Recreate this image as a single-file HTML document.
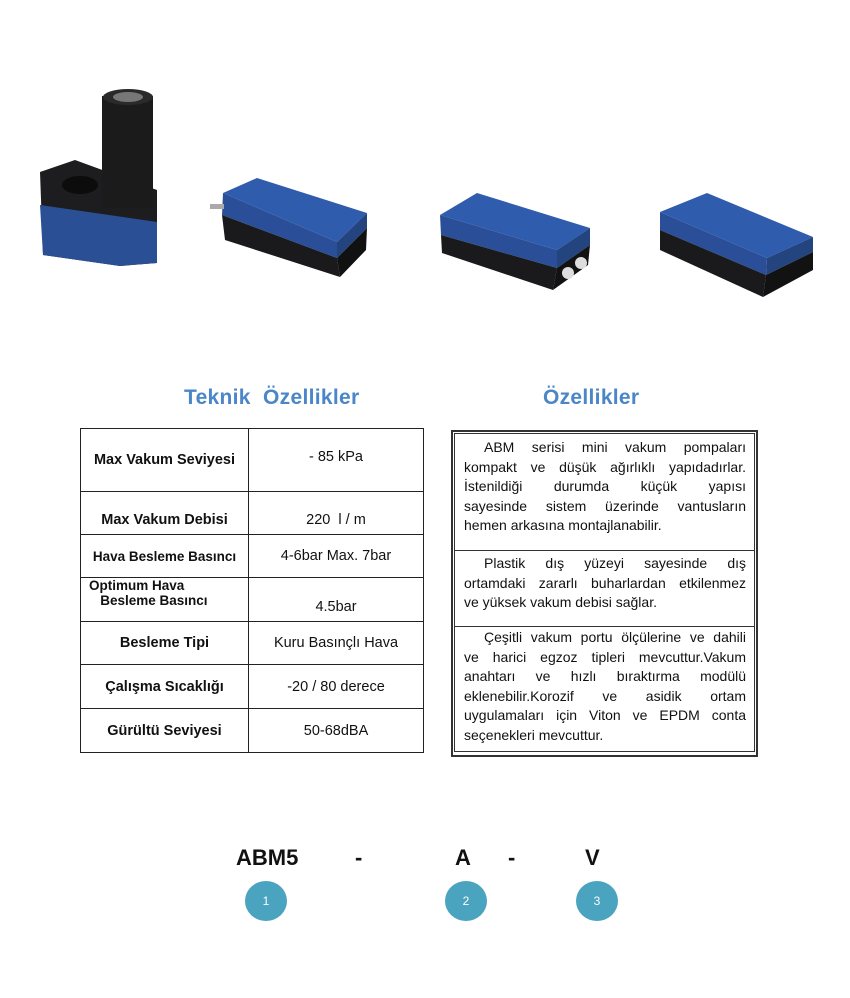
<!DOCTYPE html>
<html><head><meta charset="utf-8"><style>
body{margin:0;background:#fff;width:850px;height:998px;position:relative;font-family:"Liberation Sans",Arial,sans-serif;overflow:hidden}
.a{position:absolute}
h2{position:absolute;margin:0;color:#4a86c8;font-size:21px;font-weight:bold;top:386px;letter-spacing:0.3px}
table{position:absolute;left:80px;top:428px;border-collapse:collapse;width:343px;table-layout:fixed}
td{border:1.5px solid #222;font-size:14.5px;text-align:center;padding:0;color:#111}
td.k{font-weight:bold;font-size:14.5px}
.box{position:absolute;left:451px;top:430px;width:301px;height:321px;border:2px solid #333;padding:1px}
.sec{border:1px solid #333;font-size:14px;line-height:19.6px;box-sizing:border-box;color:#111;padding:0 8px 0 9px}
.sec div{text-align:justify;text-align-last:justify;white-space:nowrap;word-spacing:0}
.sec div.l{text-align-last:left}
.code{position:absolute;top:845px;font-size:22px;font-weight:bold;color:#111}
.c{position:absolute;width:42px;height:40px;border-radius:50%;background:#4aa3bf;color:#fff;font-size:12px;text-align:center;line-height:40px;top:881px}
</style></head><body>
<svg class="a" style="left:0;top:0" width="850" height="320">
<polygon points="40,172 75,160 157,190 157,263 120,266 43,255" fill="#1d1d1f"/>
<polygon points="40,205 157,222 157,263 120,266 43,255" fill="#2b4f94"/>
<ellipse cx="80" cy="185" rx="18" ry="9" fill="#0c0c0c"/>
<rect x="102" y="96" width="51" height="112" fill="#1b1b1b"/>
<ellipse cx="128" cy="97" rx="25" ry="8" fill="#2a2a2a"/>
<ellipse cx="128" cy="97" rx="15" ry="5" fill="#777"/>
<polygon points="223,193 257,178 367,213 337,242" fill="#2f5cad"/>
<polygon points="223,193 337,242 337,258 222,215" fill="#2a4f98"/>
<polygon points="337,242 367,213 367,228 337,258" fill="#24447f"/>
<polygon points="222,215 337,258 340,277 225,240" fill="#1a1a1c"/>
<polygon points="337,258 367,228 366,250 340,277" fill="#111"/>
<rect x="210" y="204" width="14" height="5" fill="#aaa"/>
<polygon points="440,215 477,193 590,228 557,250" fill="#2f5cad"/>
<polygon points="440,215 557,250 557,268 441,235" fill="#2a4f98"/>
<polygon points="557,250 590,228 590,245 557,268" fill="#24447f"/>
<polygon points="441,235 557,268 553,290 442,253" fill="#1a1a1c"/>
<polygon points="557,268 590,245 588,265 553,290" fill="#121212"/>
<circle cx="568" cy="273" r="6" fill="#ddd"/><circle cx="581" cy="263" r="6" fill="#ddd"/>
<polygon points="660,212 707,193 813,237 767,258" fill="#2f5cad"/>
<polygon points="660,212 767,258 766,275 660,230" fill="#2a4f98"/>
<polygon points="767,258 813,237 813,252 766,275" fill="#24447f"/>
<polygon points="660,230 766,275 763,297 660,250" fill="#1a1a1c"/>
<polygon points="766,275 813,252 813,270 763,297" fill="#121212"/>
</svg>
<h2 style="left:184px">Teknik&nbsp; Özellikler</h2>
<h2 style="left:543px">Özellikler</h2>
<table>
<colgroup><col style="width:168px"><col style="width:175px"></colgroup>
<tr style="height:63px"><td class="k">Max Vakum Seviyesi</td><td style="vertical-align:top;padding-top:20px">- 85 kPa</td></tr>
<tr style="height:43px"><td class="k" style="vertical-align:bottom;padding-bottom:6px">Max Vakum Debisi</td><td style="vertical-align:bottom;padding-bottom:6px">220&nbsp; l / m</td></tr>
<tr style="height:43px"><td class="k" style="font-size:13.5px">Hava Besleme Basıncı</td><td>4-6bar Max. 7bar</td></tr>
<tr style="height:44px"><td class="k" style="font-size:13.5px;text-align:left;padding-left:8px;line-height:15px;vertical-align:top">Optimum Hava<br>&nbsp;&nbsp;&nbsp;Besleme Basıncı</td><td style="vertical-align:bottom;padding-bottom:6px">4.5bar</td></tr>
<tr style="height:43px"><td class="k">Besleme Tipi</td><td>Kuru Basınçlı Hava</td></tr>
<tr style="height:44px"><td class="k">Çalışma Sıcaklığı</td><td>-20 / 80 derece</td></tr>
<tr style="height:44px"><td class="k">Gürültü Seviyesi</td><td>50-68dBA</td></tr>
</table>
<div class="box">
<div class="sec" style="height:118px;padding-top:4px">
<div style="padding-left:20px">ABM serisi mini vakum pompaları</div>
<div>kompakt ve düşük ağırlıklı yapıdadırlar.</div>
<div>İstenildiği durumda küçük yapısı</div>
<div>sayesinde sistem üzerinde vantusların</div>
<div class="l">hemen arkasına montajlanabilir.</div>
</div>
<div class="sec" style="height:76px;padding-top:3px;border-top:none">
<div style="padding-left:20px">Plastik dış yüzeyi sayesinde dış</div>
<div>ortamdaki zararlı buharlardan etkilenmez</div>
<div class="l">ve yüksek vakum debisi sağlar.</div>
</div>
<div class="sec" style="height:125px;padding-top:1px;border-top:none">
<div style="padding-left:20px">Çeşitli vakum portu ölçülerine ve dahili</div>
<div>ve harici egzoz tipleri mevcuttur.Vakum</div>
<div>anahtarı ve hızlı bıraktırma modülü</div>
<div>eklenebilir.Korozif ve asidik ortam</div>
<div>uygulamaları için Viton ve EPDM conta</div>
<div class="l">seçenekleri mevcuttur.</div>
</div>
</div>
<div class="code" style="left:236px">ABM5</div>
<div class="code" style="left:355px">-</div>
<div class="code" style="left:455px">A</div>
<div class="code" style="left:508px">-</div>
<div class="code" style="left:585px">V</div>
<div class="c" style="left:245px">1</div>
<div class="c" style="left:445px">2</div>
<div class="c" style="left:576px">3</div>
</body></html>
